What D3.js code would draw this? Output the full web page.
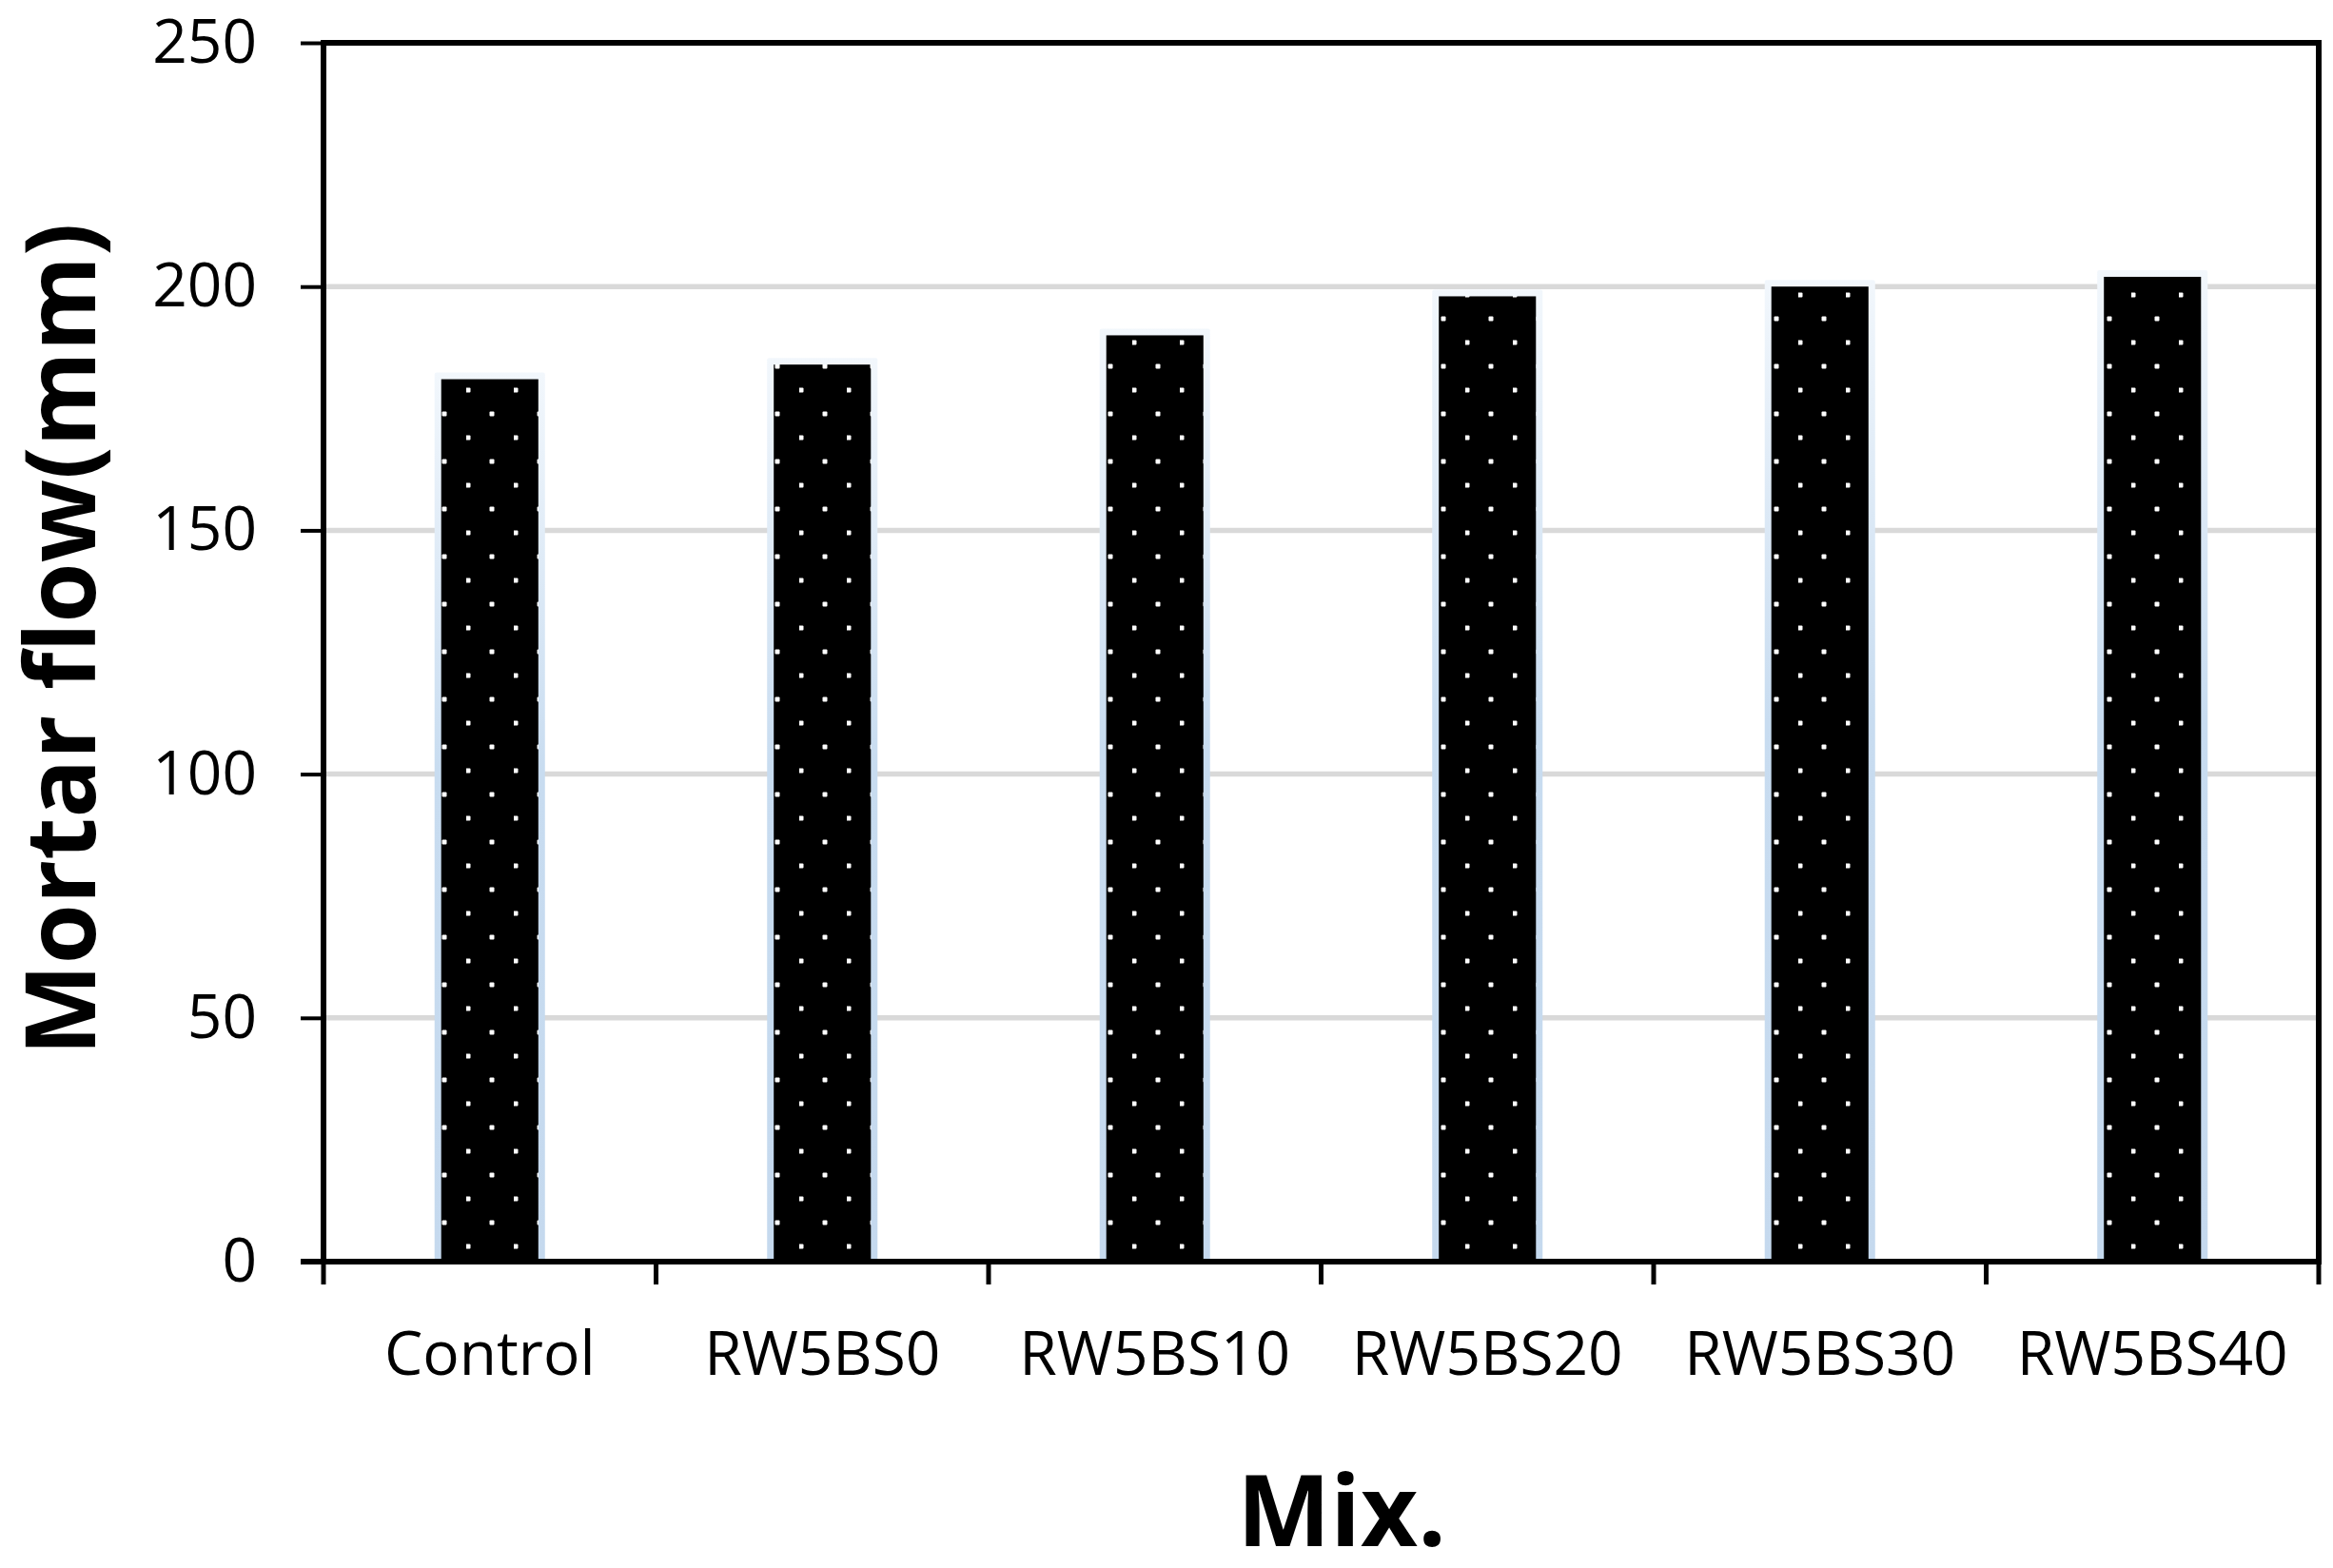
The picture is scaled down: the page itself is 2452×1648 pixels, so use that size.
<!DOCTYPE html>
<html>
<head>
<meta charset="utf-8">
<script src="https://cdn.jsdelivr.net/npm/d3@7"></script>
<style>
  html, body { margin: 0; padding: 0; background: #fff; }
  svg { display: block; font-family: "Open Sans", sans-serif; }
</style>
</head>
<body>
<svg id="chart" width="2452" height="1648"></svg>
<script>
// mixes on the x axis
const mixes = ['Control', 'RW5BS0', 'RW5BS10', 'RW5BS20', 'RW5BS30', 'RW5BS40'];
// mortar flow, mm
const flow = [181, 184, 190, 198, 200, 202];
const yTicks = [0, 50, 100, 150, 200, 250];

const margin = { top: 45, right: 15, bottom: 322, left: 340 };
const width = 2452 - margin.left - margin.right;
const height = 1648 - margin.top - margin.bottom;

const svg = d3.select('#chart');
const defs = svg.append('defs');

// dotted fill, white specks on black
const dots = defs.append('pattern')
  .attr('id', 'dots')
  .attr('patternUnits', 'userSpaceOnUse')
  .attr('width', 50)
  .attr('height', 50);
dots.append('rect').attr('width', 50).attr('height', 50).attr('fill', '#000');
dots.selectAll('rect.dot')
  .data([[27, 40], [2, 15]])
  .enter().append('rect')
  .attr('class', 'dot')
  .attr('x', d => d[0] - 2.5)
  .attr('y', d => d[1] - 2.5)
  .attr('width', 5)
  .attr('height', 5)
  .attr('rx', 1)
  .attr('fill', '#fff');

// soft blue glow round each bar
const glow = defs.append('linearGradient')
  .attr('id', 'glow')
  .attr('x1', 0).attr('y1', 0).attr('x2', 0).attr('y2', 1);
glow.append('stop').attr('offset', '0%').attr('stop-color', '#f2f7fc');
glow.append('stop').attr('offset', '45%').attr('stop-color', '#c8dcf0');
glow.append('stop').attr('offset', '100%').attr('stop-color', '#c5d9ee');

const g = svg.append('g').attr('transform', `translate(${margin.left},${margin.top})`);

const x = d3.scaleBand().domain(mixes).range([0, width]).padding(0);
const y = d3.scaleLinear().domain([0, 250]).range([height, 0]);

// gridlines
g.append('g')
  .selectAll('line')
  .data(yTicks.filter(t => t > 0 && t < 250))
  .enter().append('line')
  .attr('x1', 0)
  .attr('x2', width)
  .attr('y1', d => y(d))
  .attr('y2', d => y(d))
  .attr('stroke', '#d9d9d9')
  .attr('stroke-width', 5.5);

// bars
const barW = x.bandwidth() * 0.292;
const edge = 7;
const bars = g.append('g').selectAll('g')
  .data(mixes.map((m, i) => ({ mix: m, value: flow[i] })))
  .enter().append('g');

bars.append('rect')
  .attr('x', d => x(d.mix) + x.bandwidth() / 2 - barW / 2 - edge)
  .attr('y', d => y(d.value) - edge)
  .attr('width', barW + edge * 2)
  .attr('height', d => height - y(d.value) + edge)
  .attr('rx', 2)
  .attr('fill', 'url(#glow)');

bars.append('rect')
  .attr('x', d => x(d.mix) + x.bandwidth() / 2 - barW / 2)
  .attr('y', d => y(d.value))
  .attr('width', barW)
  .attr('height', d => height - y(d.value))
  .attr('fill', 'url(#dots)');

// plot frame (top and right)
g.append('path')
  .attr('d', `M0,0H${width}V${height}`)
  .attr('fill', 'none')
  .attr('stroke', '#000')
  .attr('stroke-width', 6);

// y axis
const yAxis = g.append('g')
  .call(d3.axisLeft(y).tickValues(yTicks).tickSize(24).tickPadding(46));
yAxis.select('.domain').attr('stroke-width', 6).attr('d', `M0,-3V${height + 3}`);
yAxis.selectAll('.tick line').attr('stroke-width', 4);
yAxis.selectAll('.tick text')
  .attr('font-family', '"Open Sans", sans-serif')
  .attr('font-size', 64)
  .attr('fill', '#000');

// x axis, ticks on category boundaries
const xAxis = g.append('g').attr('transform', `translate(0,${height})`);
xAxis.append('line')
  .attr('x1', -24).attr('x2', width + 3)
  .attr('stroke', '#000').attr('stroke-width', 6);
xAxis.selectAll('line.tk')
  .data(mixes.map(m => x(m)).concat([width]))
  .enter().append('line')
  .attr('class', 'tk')
  .attr('x1', d => d).attr('x2', d => d)
  .attr('y1', 0).attr('y2', 24)
  .attr('stroke', '#000').attr('stroke-width', 5);
xAxis.selectAll('text')
  .data(mixes)
  .enter().append('text')
  .attr('x', d => x(d) + x.bandwidth() / 2)
  .attr('y', 119)
  .attr('text-anchor', 'middle')
  .attr('font-size', 64)
  .attr('fill', '#000')
  .text(d => d);

// axis titles
svg.append('text')
  .attr('transform', 'translate(100,672) rotate(-90)')
  .attr('text-anchor', 'middle')
  .attr('font-size', 102)
  .attr('font-weight', 'bold')
  .attr('textLength', 875)
  .attr('lengthAdjust', 'spacingAndGlyphs')
  .text('Mortar flow(mm)');

svg.append('text')
  .attr('x', 1410)
  .attr('y', 1625)
  .attr('text-anchor', 'middle')
  .attr('font-size', 104)
  .attr('font-weight', 'bold')
  .text('Mix.');
</script>
</body>
</html>
